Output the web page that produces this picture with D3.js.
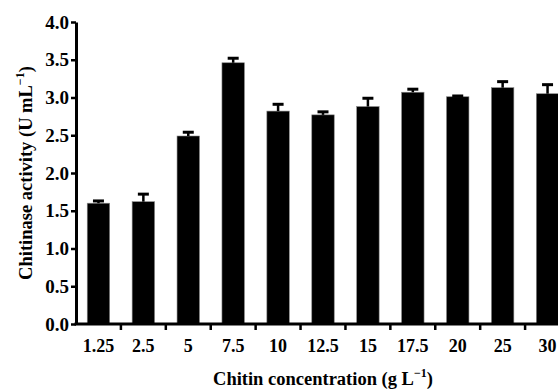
<!DOCTYPE html>
<html>
<head>
<meta charset="utf-8">
<script src="https://cdn.jsdelivr.net/npm/d3@7"></script>
<style>
  body { margin: 0; background: #fff; }
  svg { display: block; }
  .axis text { font-family: "Liberation Serif", "Times New Roman", serif; font-weight: bold; font-size: 18px; fill: #000; }
  .y.axis text { font-size: 19px; }
  .title { font-family: "Liberation Serif", "Times New Roman", serif; font-weight: bold; font-size: 18.5px; fill: #000; }
</style>
</head>
<body>
<div id="chart"></div>
<script>
// Chitin concentration (g/L) categories and chitinase activity (U/mL)
const concentrations = ['1.25', '2.5', '5', '7.5', '10', '12.5', '15', '17.5', '20', '25', '30'];
const activity = [1.60, 1.62, 2.49, 3.46, 2.82, 2.77, 2.88, 3.07, 3.01, 3.13, 3.05];
const errors = [0.03, 0.10, 0.05, 0.06, 0.09, 0.04, 0.11, 0.04, 0.01, 0.08, 0.12];
const yTicks = [0, 0.5, 1, 1.5, 2, 2.5, 3, 3.5, 4];

const width = 558;
const height = 390;
const margin = { top: 22, right: -12, bottom: 66, left: 76 };

const svg = d3.select('#chart')
  .append('svg')
  .attr('width', width)
  .attr('height', height);

const x = d3.scaleBand()
  .domain(concentrations)
  .range([margin.left, width - margin.right])
  .paddingInner(0.5)
  .paddingOuter(0.25);

const y = d3.scaleLinear()
  .domain([0, 4])
  .range([height - margin.bottom, margin.top]);

const step = x.step();

// bars
svg.append('g')
  .selectAll('rect')
  .data(concentrations)
  .join('rect')
  .attr('x', (d) => x(d))
  .attr('y', (d, i) => y(activity[i]))
  .attr('width', x.bandwidth())
  .attr('height', (d, i) => y(0) - y(activity[i]))
  .attr('fill', '#000')
  .attr('stroke', '#888')
  .attr('stroke-width', 0.6);

// error bars (upper only)
const err = svg.append('g').attr('stroke', '#000');
concentrations.forEach((c, i) => {
  const cx = x(c) + x.bandwidth() / 2;
  const top = y(activity[i] + errors[i]);
  err.append('line')
    .attr('x1', cx).attr('x2', cx)
    .attr('y1', y(activity[i])).attr('y2', top)
    .attr('stroke-width', 2.5);
  err.append('line')
    .attr('x1', cx - 5.5).attr('x2', cx + 5.5)
    .attr('y1', top).attr('y2', top)
    .attr('stroke-width', 3);
});

// x axis: labels under bars, ticks on band boundaries
const xAxis = svg.append('g')
  .attr('class', 'x axis')
  .attr('transform', `translate(0, ${y(0)})`)
  .call(d3.axisBottom(x).tickSize(0).tickPadding(15));
xAxis.select('.domain').remove();
xAxis.selectAll('text').attr('dy', '0.71em');

svg.append('g')
  .selectAll('line')
  .data(concentrations)
  .join('line')
  .attr('x1', (d) => x(d) + x.bandwidth() + step * 0.25)
  .attr('x2', (d) => x(d) + x.bandwidth() + step * 0.25)
  .attr('y1', y(0))
  .attr('y2', y(0) + 6)
  .attr('stroke', '#000')
  .attr('stroke-width', 2.5);

svg.append('line')
  .attr('x1', margin.left - 1.5)
  .attr('x2', width)
  .attr('y1', y(0))
  .attr('y2', y(0))
  .attr('stroke', '#000')
  .attr('stroke-width', 3);

// y axis
const yAxis = svg.append('g')
  .attr('class', 'y axis')
  .attr('transform', `translate(${margin.left}, 0)`)
  .call(d3.axisLeft(y).tickValues(yTicks).tickFormat(d3.format('.1f')).tickSize(5).tickSizeOuter(0).tickPadding(2));
yAxis.select('.domain').attr('stroke-width', 3);
yAxis.selectAll('.tick line').attr('stroke-width', 2.5);

// axis titles
const xTitle = svg.append('text')
  .attr('class', 'title')
  .attr('x', 323)
  .attr('y', 385)
  .attr('text-anchor', 'middle');
xTitle.append('tspan').text('Chitin concentration (g L');
xTitle.append('tspan').attr('dy', -8).attr('font-size', 12).text('−1');
xTitle.append('tspan').attr('dy', 8).text(')');

const yTitle = svg.append('text')
  .attr('class', 'title')
  .attr('transform', `translate(32, ${(y(0) + y(4)) / 2}) rotate(-90)`)
  .attr('text-anchor', 'middle');
yTitle.append('tspan').text('Chitinase activity (U mL');
yTitle.append('tspan').attr('dy', -8).attr('font-size', 12).text('−1');
yTitle.append('tspan').attr('dy', 8).text(')');
</script>
</body>
</html>
